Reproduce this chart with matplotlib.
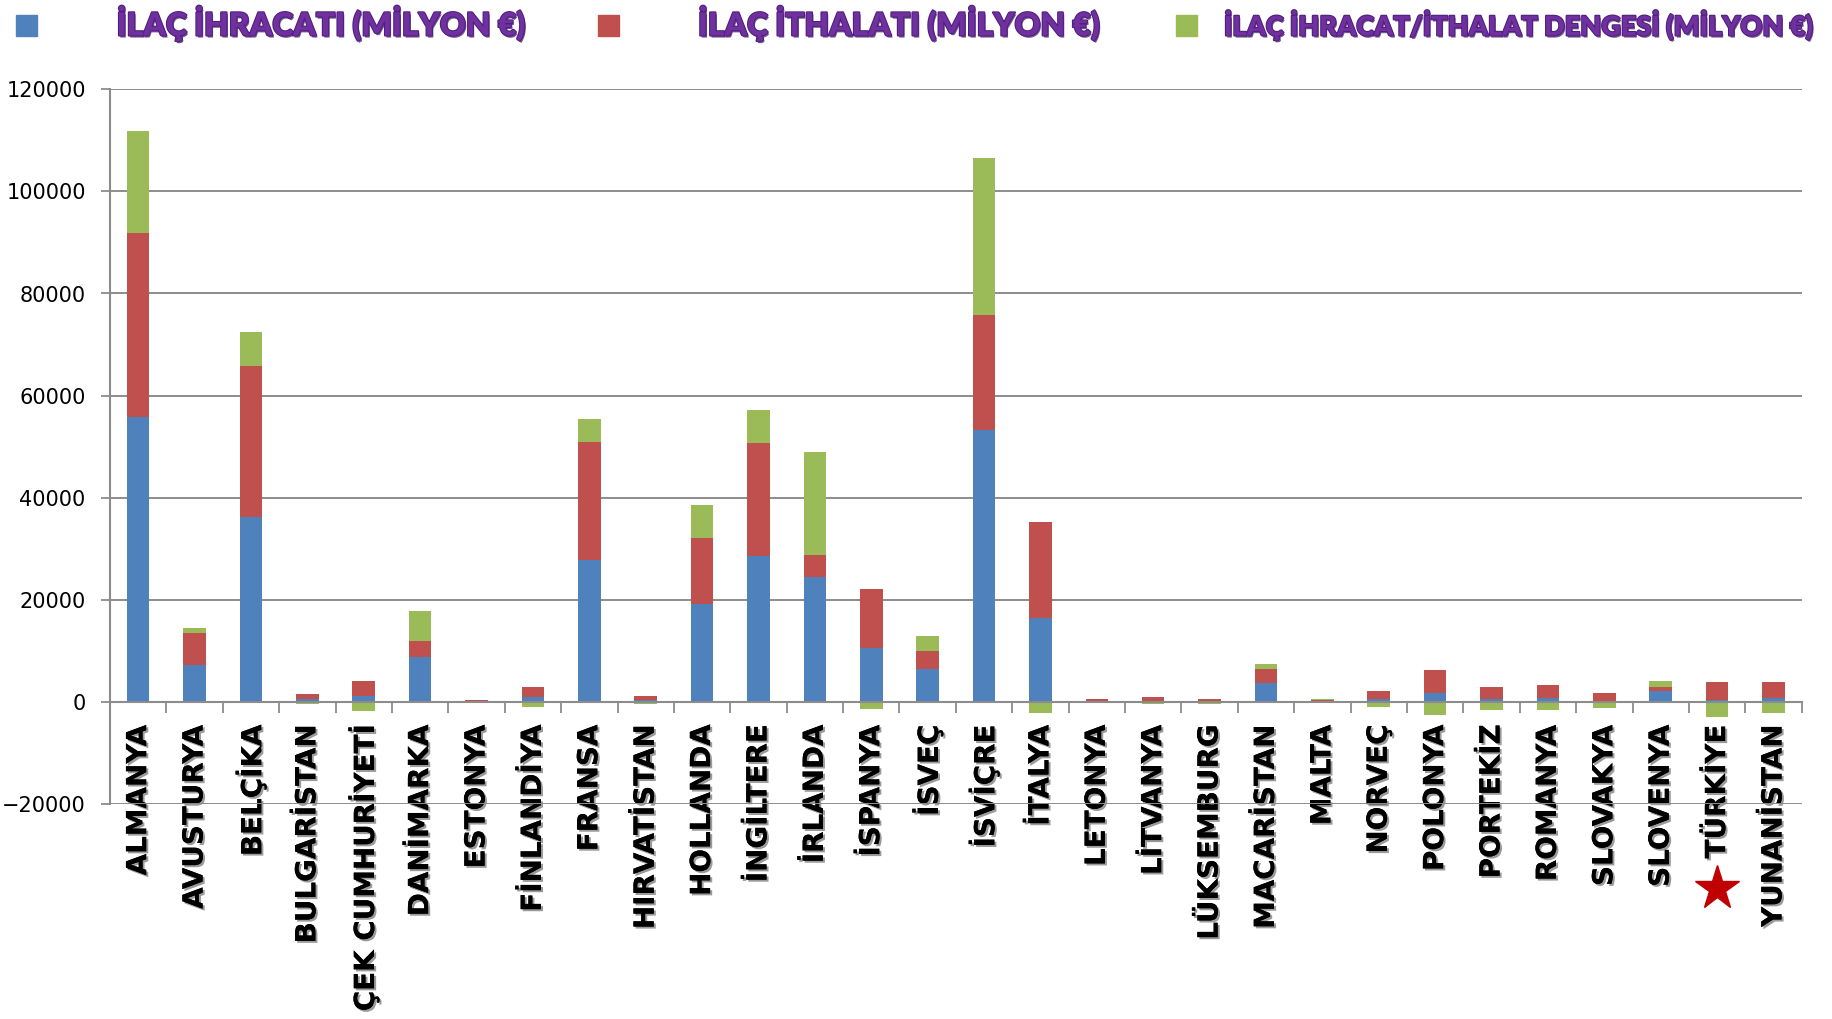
import numpy as np
import matplotlib
matplotlib.use("Agg")
import matplotlib.pyplot as plt
import matplotlib.patheffects as pe
from matplotlib.patches import Rectangle

# Ülkeler ve ilaç dış ticaret verileri (milyon €)
countries = ["ALMANYA", "AVUSTURYA", "BELÇİKA", "BULGARİSTAN", "ÇEK CUMHURİYETİ",
             "DANİMARKA", "ESTONYA", "FİNLANDİYA", "FRANSA", "HIRVATİSTAN",
             "HOLLANDA", "İNGİLTERE", "İRLANDA", "İSPANYA", "İSVEÇ",
             "İSVİÇRE", "İTALYA", "LETONYA", "LİTVANYA", "LÜKSEMBURG",
             "MACARİSTAN", "MALTA", "NORVEÇ", "POLONYA", "PORTEKİZ",
             "ROMANYA", "SLOVAKYA", "SLOVENYA", "TÜRKİYE", "YUNANİSTAN"]
exports = [55900, 7230, 36240, 500, 1220, 8860, 100, 900, 27700, 300,
           19260, 28600, 24460, 10480, 6450, 53300, 16490, 150, 250, 150,
           3740, 250, 500, 1800, 650, 800, 250, 2100, 420, 850]
imports = [35900, 6340, 29650, 970, 2920, 3080, 250, 1950, 23240, 760,
           12920, 22020, 4220, 11700, 3450, 22510, 18690, 420, 700, 480,
           2680, 80, 1540, 4390, 2190, 2520, 1460, 820, 3490, 3090]
balance = [20050, 890, 6500, -480, -1700, 5850, -150, -1000, 4550, -460,
           6410, 6500, 20310, -1300, 3100, 30790, -2150, -270, -450, -330,
           1050, 170, -1000, -2500, -1500, -1650, -1150, 1210, -2950, -2100]
legend_labels = ["İLAÇ İHRACATI (MİLYON €)", "İLAÇ İTHALATI (MİLYON €)",
                 "İLAÇ İHRACAT/İTHALAT DENGESİ (MİLYON €)"]

BLUE, RED, GREEN = "#4F81BD", "#C0504D", "#9BBB59"
GRID = "#8C8C8C"

W, H = 1833, 1019
fig = plt.figure(figsize=(W / 100, H / 100), dpi=100)
ax = fig.add_axes([110 / W, 1 - 804 / H, (1801.7 - 110) / W, (804 - 89.3) / H])

x = np.arange(len(countries))
exp = np.array(exports)
imp = np.array(imports)
bal = np.array(balance)
width = 0.4

ax.bar(x, exp, width, color=BLUE, zorder=2)
ax.bar(x, imp, width, bottom=exp, color=RED, zorder=2)
# pozitif denge ithalatın üstüne, negatif denge sıfırın altına yığılır
green_bottom = np.where(bal > 0, exp + imp, 0)
ax.bar(x, bal, width, bottom=green_bottom, color=GREEN, zorder=2)

ax.set_xlim(-0.5, len(countries) - 0.5)
ax.set_ylim(-20000, 120000)
ax.set_yticks(np.arange(-20000, 120001, 20000))
ax.yaxis.grid(True, color=GRID, linewidth=1.4)
ax.set_axisbelow(True)

for side in ("top", "right"):
    ax.spines[side].set_visible(False)
ax.spines["left"].set_color(GRID)
ax.spines["left"].set_linewidth(1.5)
ax.spines["bottom"].set_position(("data", 0))
ax.spines["bottom"].set_color(GRID)
ax.spines["bottom"].set_linewidth(1.5)

ax.tick_params(axis="y", length=6.5, width=1.3, color=GRID, pad=11,
               labelsize=15, labelcolor="black")
ax.set_xticks(x)
ax.set_xticks(np.arange(-0.5, len(countries), 1.0), minor=True)
ax.tick_params(axis="x", which="major", length=0, pad=16.5)
ax.tick_params(axis="x", which="minor", length=8, width=1.3, color=GRID,
               direction="out")
ax.set_xticklabels(countries, rotation=90, fontsize=20, fontweight="bold",
                   family="DejaVu Sans")
for lbl in ax.get_xticklabels():
    lbl.set_path_effects([pe.withSimplePatchShadow(offset=(1.5, -1.5),
                                                   shadow_rgbFace="0.35",
                                                   alpha=0.6),
                          pe.Normal()])

# Türkiye etiketinin altına kırmızı yıldız
tr = countries.index("TÜRKİYE")
ax.plot([tr], [-0.118], marker="*", markersize=33, color="#C00000",
        transform=ax.get_xaxis_transform(), clip_on=False, zorder=5)

# Üst kısımdaki açıklama kutuları ve başlıklar
squares = [(16, BLUE), (598.5, RED), (1176, GREEN)]
for sx, col in squares:
    fig.add_artist(Rectangle((sx / W, 1 - 35.7 / H), 20.7 / W, 20.7 / H,
                             transform=fig.transFigure, color=col))

text_pos = [(116.7, 408), (698, 401), (1224, 588)]
renderer = fig.canvas.get_renderer()
for (tx, tw), label in zip(text_pos, legend_labels):
    t = fig.text(tx / W, 1 - 35.5 / H, label, ha="left", va="baseline",
                 fontsize=26, fontweight="heavy", color="#7030A0",
                 family=["Lato", "DejaVu Sans"])
    t.set_path_effects([pe.withSimplePatchShadow(offset=(1, -1.5),
                                                 shadow_rgbFace="#3A1260",
                                                 alpha=0.7),
                        pe.withStroke(linewidth=1.5, foreground="#4E1F7A")])
    wpx = t.get_window_extent(renderer).width
    t.set_fontsize(26 * tw / wpx)

fig.savefig("out.png", dpi=100)
